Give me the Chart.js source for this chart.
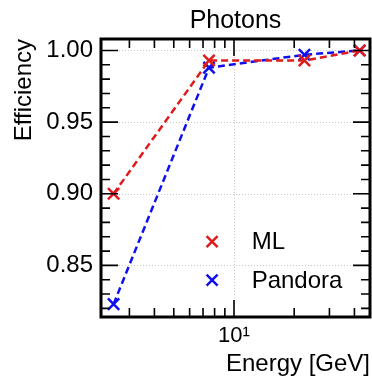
<!DOCTYPE html>
<html><head><meta charset="utf-8">
<script src="https://cdn.jsdelivr.net/npm/chart.js@4/dist/chart.umd.min.js"></script>
<style>html,body{margin:0;padding:0;background:#fff;overflow:hidden}</style>
</head><body>
<canvas id="c" width="372" height="384" style="display:block;width:372px;height:384px"></canvas>
<script>
// ---- data ----
const energy = [2.5, 7.5, 22.5, 42.5];
const mlEff = [0.900, 0.993, 0.993, 1.000];
const pandoraEff = [0.823, 0.988, 0.997, 1.000];
const seriesLabels = ['ML', 'Pandora'];
const yMajorTicks = [0.85, 0.90, 0.95, 1.00];
const yMinorTicks = [0.82, 0.83, 0.84, 0.86, 0.87, 0.88, 0.89, 0.91, 0.92, 0.93, 0.94, 0.96, 0.97, 0.98, 0.99];
const xMajorTicks = [10];
const xMinorTicks = [3, 4, 5, 6, 7, 8, 9, 20, 30, 40];
const chartTitle = 'Photons';
const xTitle = 'Energy [GeV]';
const yTitle = 'Efficiency';

const FONT = "'Liberation Sans', Arial, Helvetica, sans-serif";
const RED = '#e01b1b';
const BLUE = '#1010ee';
Chart.defaults.font.family = FONT;
Chart.defaults.color = '#000';

const SUP = {'0':'⁰','1':'¹','2':'²','3':'³','4':'⁴','5':'⁵','6':'⁶','7':'⁷','8':'⁸','9':'⁹','-':'⁻'};
function logLabel(v) {
  const e = Math.round(Math.log10(v));
  return '10' + String(e).split('').map(c => SUP[c]).join('');
}

function drawCross(ctx, x, y, r, color, w) {
  ctx.save();
  ctx.strokeStyle = color; ctx.lineWidth = w;
  ctx.beginPath();
  ctx.moveTo(x - r, y - r); ctx.lineTo(x + r, y + r);
  ctx.moveTo(x - r, y + r); ctx.lineTo(x + r, y - r);
  ctx.stroke();
  ctx.restore();
}

const framePlugin = {
  id: 'frame',
  beforeDatasetsDraw(chart) {
    const {ctx, chartArea: a, scales: {x, y}} = chart;
    ctx.save();
    ctx.strokeStyle = '#c8c8c8'; ctx.lineWidth = 1; ctx.setLineDash([1, 2]);
    yMajorTicks.forEach(v => { const p = Math.round(y.getPixelForValue(v)) + 0.5;
      ctx.beginPath(); ctx.moveTo(a.left, p); ctx.lineTo(a.right, p); ctx.stroke(); });
    xMajorTicks.forEach(v => { const p = Math.round(x.getPixelForValue(v)) + 0.5;
      ctx.beginPath(); ctx.moveTo(p, a.top); ctx.lineTo(p, a.bottom); ctx.stroke(); });
    ctx.restore();
  },
  afterDatasetsDraw(chart) {
    const {ctx, chartArea: a, scales: {x, y}} = chart;
    const MAJ = 17, MIN = 9;
    ctx.save();
    ctx.strokeStyle = '#000'; ctx.lineWidth = 1.6;
    const hl = (p, len) => {
      ctx.beginPath(); ctx.moveTo(a.left, p); ctx.lineTo(a.left + len, p);
      ctx.moveTo(a.right, p); ctx.lineTo(a.right - len, p); ctx.stroke(); };
    const vl = (p, len) => {
      ctx.beginPath(); ctx.moveTo(p, a.bottom); ctx.lineTo(p, a.bottom - len);
      ctx.moveTo(p, a.top); ctx.lineTo(p, a.top + len); ctx.stroke(); };
    yMajorTicks.forEach(v => hl(y.getPixelForValue(v), MAJ));
    yMinorTicks.forEach(v => hl(y.getPixelForValue(v), MIN));
    xMajorTicks.forEach(v => vl(x.getPixelForValue(v), MAJ));
    xMinorTicks.forEach(v => vl(x.getPixelForValue(v), MIN));
    ctx.lineWidth = 3;
    ctx.strokeRect(a.left, a.top, a.right - a.left, a.bottom - a.top);
    ctx.restore();
  },
  afterDraw(chart) {
    const {ctx, chartArea: a} = chart;
    const w = a.right - a.left, h = a.bottom - a.top;
    ctx.save();
    ctx.fillStyle = '#000';
    // title centred over plot area
    ctx.font = '25px ' + FONT;
    ctx.textAlign = 'center';
    ctx.textBaseline = 'alphabetic';
    ctx.fillText(chartTitle, (a.left + a.right) / 2, a.top - 11);
    // legend
    const mx = a.left + 0.413 * w, tx = a.left + 0.56 * w;
    const rows = [a.top + 0.729 * h, a.top + 0.867 * h];
    ctx.font = '24px ' + FONT;
    ctx.textBaseline = 'middle';
    ctx.textAlign = 'left';
    chart.data.datasets.forEach((ds, i) => {
      drawCross(ctx, mx, rows[i], 5.5, ds.borderColor, 2.5);
      ctx.fillText(ds.label, tx, rows[i] + 1);
    });
    ctx.restore();
  }
};

new Chart(document.getElementById('c'), {
  type: 'line',
  data: {
    datasets: [
      { label: seriesLabels[0], data: energy.map((e, i) => ({x: e, y: mlEff[i]})),
        borderColor: RED, backgroundColor: RED, borderWidth: 2.5, borderDash: [7, 4],
        pointStyle: 'crossRot', pointRadius: 8, pointBorderWidth: 2.5, pointBorderColor: RED, fill: false, tension: 0 },
      { label: seriesLabels[1], data: energy.map((e, i) => ({x: e, y: pandoraEff[i]})),
        borderColor: BLUE, backgroundColor: BLUE, borderWidth: 2.5, borderDash: [7, 4],
        pointStyle: 'crossRot', pointRadius: 8, pointBorderWidth: 2.5, pointBorderColor: BLUE, fill: false, tension: 0 }
    ]
  },
  options: {
    responsive: false, animation: false, devicePixelRatio: 1,
    layout: { autoPadding: false, padding: { left: 0, right: 2, top: 39, bottom: 0 } },
    plugins: {
      legend: { display: false }, tooltip: { enabled: false }, title: { display: false }
    },
    scales: {
      x: {
        type: 'logarithmic', min: 2.163, max: 47.86,
        grid: { display: false, drawTicks: false }, border: { display: false },
        afterBuildTicks: s => { s.ticks = xMajorTicks.map(v => ({ value: v, major: true })); },
        ticks: { color: '#000', font: { size: 22 }, padding: 6, autoSkip: false, maxRotation: 0,
          callback: v => logLabel(v) },
        title: { display: true, text: xTitle, align: 'end', color: '#000', font: { size: 24 },
          padding: { top: 0, bottom: 5 } },
        afterFit: s => { s.height = 67; }
      },
      y: {
        min: 0.814, max: 1.008,
        grid: { display: false, drawTicks: false }, border: { display: false },
        afterBuildTicks: s => { s.ticks = yMajorTicks.map(v => ({ value: v })); },
        ticks: { color: '#000', font: { size: 24 }, padding: 8, callback: v => Number(v).toFixed(2) },
        title: { display: true, text: yTitle, align: 'end', color: '#000', font: { size: 24 },
          padding: { top: 10, bottom: 0 } },
        afterFit: s => { s.width = 101; }
      }
    }
  },
  plugins: [framePlugin]
});
</script>
</body></html>
